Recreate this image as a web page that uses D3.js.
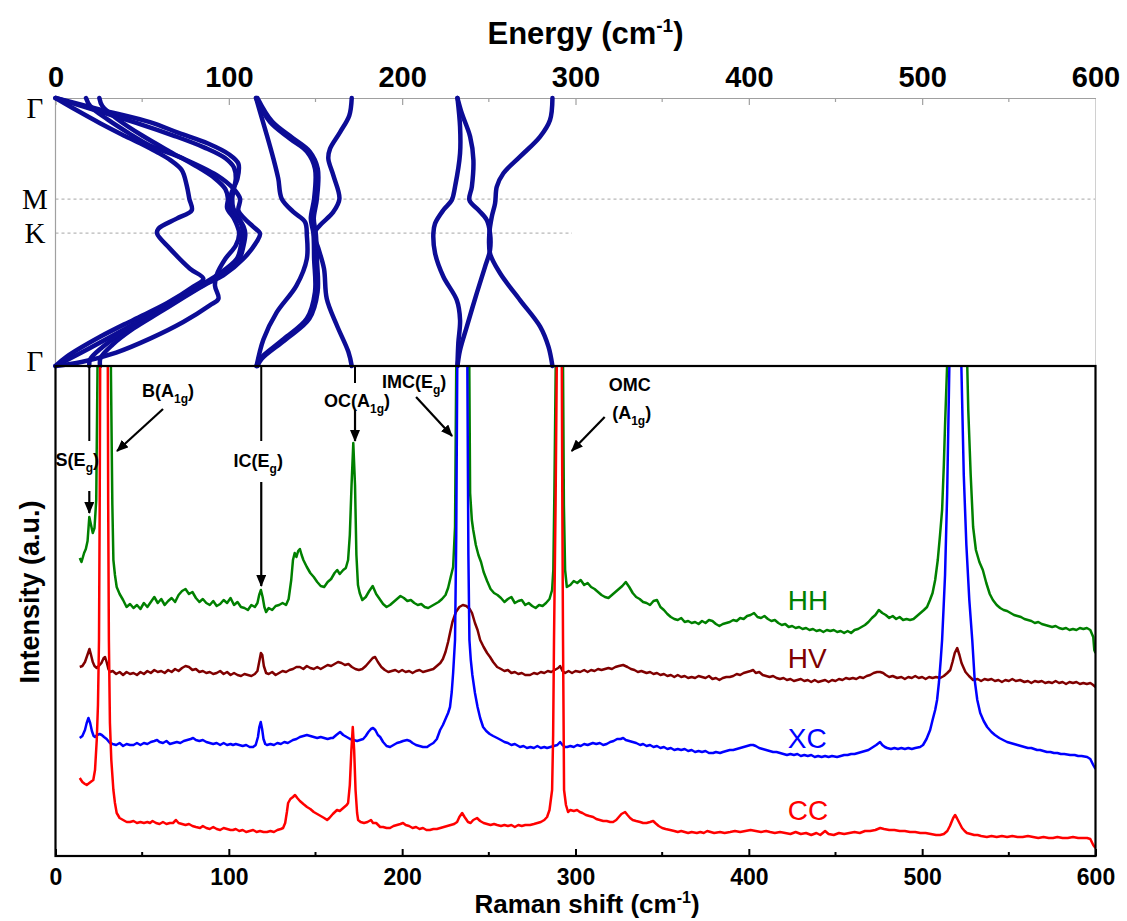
<!DOCTYPE html>
<html>
<head>
<meta charset="utf-8">
<script src="https://cdn.jsdelivr.net/npm/d3@7"></script>
<style>
  body { margin: 0; background: #fff; }
  svg { display: block; }
</style>
</head>
<body>
<svg id="chart" width="1127" height="921"></svg>
<script>
// ---------------- data ----------------
// Raman shift ticks (cm^-1) shared by both panels
const shiftTicks = [0, 100, 200, 300, 400, 500, 600];
const shiftMinorTicks = [50, 150, 250, 350, 450, 550];

// high-symmetry points along the Brillouin-zone path (normalised path length)
const kLabels = ["Γ", "M", "K", "Γ"];
const kPositions = [0, 0.377, 0.504, 1];

// phonon branches: [energy (cm^-1), path coordinate]
const bandA = [[0,0],[12,0.045],[25.7,0.094],[38,0.135],[48.8,0.169],[58,0.2],[66.1,0.231],[72.8,0.269],[75.7,0.326],[77.2,0.376],[78.6,0.419],[69.9,0.45],[59.3,0.488],[58.6,0.506],[66,0.562],[77.6,0.637],[85.3,0.674],[79.5,0.704],[64.2,0.766],[44.9,0.828],[25.7,0.891],[6.5,0.965],[0,1]];
const bandB = [[0,0],[27,0.045],[54.5,0.09],[71,0.13],[88,0.17],[100,0.21],[105.5,0.245],[105,0.3],[101.7,0.351],[100.7,0.376],[100.7,0.413],[104.6,0.444],[107.4,0.475],[108,0.506],[107,0.55],[104.6,0.6],[93,0.662],[83.4,0.7],[64.2,0.774],[54.5,0.81],[35,0.88],[15,0.95],[0,1]];
const bandB2 = [[0,0],[25,0.05],[50,0.1],[68,0.14],[86,0.185],[98,0.225],[103,0.26],[104,0.3],[102.5,0.35],[102,0.376],[102.5,0.41],[105.5,0.445],[108.5,0.48],[109.5,0.506],[108.5,0.55],[106,0.6],[95,0.66],[85.5,0.697],[66,0.77],[56,0.806],[40,0.87],[27,0.93],[20,0.975],[19.5,1]];
const bandC = [[17.6,0],[20,0.03],[30,0.08],[42,0.13],[54.5,0.177],[73.7,0.226],[93,0.288],[102.6,0.338],[106.5,0.376],[105.5,0.42],[109,0.45],[114,0.48],[118,0.506],[116,0.537],[108.4,0.6],[96.8,0.662],[87.2,0.693],[75,0.74],[60,0.8],[45,0.86],[33,0.92],[26,0.97],[25.7,1]];
const bandD = [[25.3,0],[27,0.03],[36,0.08],[50,0.14],[66,0.2],[80,0.25],[92,0.3],[98,0.34],[99.5,0.376],[99,0.41],[103,0.45],[105,0.48],[106,0.506],[104,0.55],[98,0.6],[93,0.66],[92,0.7],[94,0.749],[89,0.774],[73.7,0.836],[54.5,0.898],[35,0.95],[15,0.985],[0,1]];
const bandIC1 = [[115.7,0],[118,0.052],[122,0.14],[125.7,0.226],[128.5,0.3],[130.5,0.376],[137.2,0.425],[144,0.463],[145,0.512],[145,0.6],[139,0.7],[127.6,0.8],[120,0.9],[116,1]];
const bandIC2 = [[115.7,0],[123.8,0.09],[135.3,0.152],[145,0.2],[149.7,0.264],[149.2,0.376],[147.3,0.45],[148.8,0.506],[149.2,0.6],[149.7,0.724],[145,0.823],[131.5,0.9],[118,0.973],[116,1]];
const bandIC3 = [[116.5,0],[125,0.088],[137,0.15],[146.7,0.2],[151.3,0.264],[150.8,0.376],[149,0.45],[150.2,0.506],[150.8,0.6],[151.2,0.724],[146.5,0.823],[133,0.9],[119,0.973],[116.5,1]];
const bandOC = [[170.9,0],[169.5,0.065],[164.2,0.127],[158.4,0.189],[157.4,0.226],[160.3,0.289],[163.8,0.376],[160.3,0.425],[152.6,0.475],[149.2,0.506],[151.7,0.562],[154.9,0.637],[156.5,0.749],[162.3,0.848],[169,0.948],[170.9,1]];
const bandIMC1 = [[231.9,0],[233.4,0.107],[233.4,0.206],[230.5,0.331],[228.6,0.381],[223.8,0.418],[219,0.468],[218,0.505],[219,0.58],[223.8,0.667],[231.5,0.754],[233.4,0.828],[232.4,0.915],[231.9,1]];
const bandIMC2 = [[231.9,0],[234.4,0.057],[239.2,0.144],[241.1,0.231],[240.2,0.331],[238.8,0.381],[244,0.418],[248.8,0.455],[250.7,0.505],[250.7,0.567],[247.8,0.63],[243,0.729],[237.3,0.853],[233.4,0.94],[231.9,1]];
const bandOMC = [[286.7,0],[285.3,0.082],[279.6,0.144],[268,0.219],[258.4,0.281],[254.6,0.331],[253.6,0.393],[251.7,0.443],[250.3,0.505],[250.7,0.58],[256.5,0.654],[268,0.754],[279.6,0.853],[284.4,0.928],[286.7,1]];
const bands = [bandA, bandB, bandB2, bandC, bandD, bandIC1, bandIC2, bandIC3, bandOC, bandIMC1, bandIMC2, bandOMC];

// Raman spectra: [shift (cm^-1), intensity (a.u., offset per polarisation)]
const specHH = [[14,29.7],[15,29.3],[16.5,30.2],[17.5,30.6],[18.5,31.4],[19.5,33.8],[20.5,33.0],[21.5,32.2],[22.5,32.7],[23.5,35.5],[24.2,48],[25,70],[26,95],[28,110],[30,95],[31.2,70],[32,48],[32.8,35],[33.4,29.5],[34.3,28],[35.3,26.8],[37,26.1],[39,25.5],[41,24.8],[43,25.1],[45,24.7],[47,25.0],[49,24.6],[51,25.2],[53,24.8],[55,25.3],[57,25.8],[59,25.2],[61,25.6],[63,25.0],[65,25.4],[67,25.7],[69,25.3],[71,26.0],[73,26.4],[75,26.6],[77,26.1],[79,26.3],[81,25.7],[83,25.3],[85,25.6],[87,25.2],[89,25.0],[91,25.4],[93,24.9],[95,25.1],[97,25.5],[99,25.2],[101,25.7],[103,25.0],[105,25.3],[107,24.8],[109,24.7],[111,24.5],[113,25.0],[115,24.8],[116.5,25.2],[117.5,26.0],[118.5,26.5],[119.5,25.8],[120.5,24.8],[121.5,24.3],[123,24.7],[125,24.5],[127,24.9],[129,25.0],[131,25.2],[133,25.0],[134.5,25.6],[136,27.5],[137,29.5],[138,30.2],[139,29.8],[140,30.4],[141,30.6],[142,30.0],[143,29.5],[145,28.8],[147,28.2],[149,27.8],[151,27.3],[153,26.9],[155,26.8],[157,27.3],[159,27.6],[161,28.2],[162.5,28.5],[164,28.1],[166,28.5],[167.5,28.7],[168.8,29.5],[169.8,32],[170.8,37],[171.8,41.2],[172.8,37],[173.6,30],[174.5,27],[175.5,26.2],[177,25.5],[179,25.8],[181,26.4],[183,26.9],[185,26.1],[187,25.6],[189,25.1],[191,24.8],[193,25.0],[195,25.3],[197,25.6],[199,25.9],[201,25.7],[203,25.4],[205,25.5],[207,25.2],[209,25.0],[211,25.1],[213,24.8],[215,24.7],[217,24.9],[219,25.1],[221,25.3],[223,25.6],[225,26.0],[226.5,26.7],[228,27.8],[229.4,28.8],[230.5,32.8],[231.2,49],[232,80],[234.5,120],[237,90],[238.5,55],[239.2,36.2],[240.2,33.5],[241,32.5],[242.5,31],[244,30],[245.5,29.3],[247,28.3],[249,27.4],[251,26.6],[253,26.2],[255,26.0],[257,25.7],[259,25.3],[261,25.6],[263,25.8],[265,25.2],[267,25.4],[269,25.5],[271,25.0],[273,25.2],[275,24.9],[277,24.7],[279,25.0],[281,24.9],[283,25.2],[285,25.6],[286.5,26.5],[287.2,28.5],[287.8,36],[288.6,49],[289.3,90],[290.5,120],[291.8,90],[292.8,49],[293.3,35],[294,28.5],[295,26.8],[297,27.0],[299,27.4],[301,27.2],[303,27.5],[305,27.0],[307,27.2],[309,26.8],[311,26.6],[313,26.3],[315,26.0],[317,25.8],[319,25.7],[321,26.0],[323,26.3],[325,26.6],[327,26.9],[329,27.3],[331,26.8],[333,26.2],[335,25.8],[337,25.6],[339,25.3],[341,25.2],[343,25.0],[345,25.4],[347,25.5],[349,24.8],[351,24.5],[353,24.1],[355,23.8],[357,23.6],[359,23.5],[361,23.7],[363,23.3],[365,23.4],[367,23.2],[369,23.3],[371,23.1],[373,23.4],[375,23.2],[377,23.5],[379,23.4],[381,23.1],[383,22.9],[385,23.1],[387,23.2],[389,23.3],[391,23.5],[393,23.4],[395,23.7],[397,23.6],[399,23.9],[401,24.0],[403,24.2],[405,23.8],[407,23.7],[409,23.9],[411,23.6],[413,23.4],[415,23.5],[417,23.2],[419,23.0],[421,23.1],[423,22.8],[425,22.9],[427,22.7],[429,22.8],[431,22.6],[433,22.7],[435,22.5],[437,22.6],[439,22.4],[441,22.5],[443,22.3],[445,22.5],[447,22.4],[449,22.5],[451,22.3],[453,22.4],[455,22.2],[457,22.4],[459,22.2],[461,22.5],[463,22.6],[465,22.8],[467,23.0],[469,23.3],[471,23.7],[473,24.0],[475,24.5],[477,24.2],[479,24.0],[481,23.7],[483,23.9],[485,23.6],[487,23.8],[489,23.5],[491,23.6],[493,23.5],[495,23.6],[497,23.9],[499,24.2],[501,24.5],[502.8,24.8],[504.5,25.5],[506,26.2],[507.5,27.5],[509,29.5],[510.3,32],[511.5,34.5],[512.5,39],[513.2,43],[514.4,49],[515.5,65],[517,90],[520,110],[523,90],[525,65],[526,49],[526.6,44.5],[528,38],[529.4,32.8],[531,30.5],[533,29.3],[535,28.5],[537,27.2],[539,26.1],[540.8,25.5],[543,25.0],[545,24.7],[547,24.5],[549,24.4],[551,24.2],[553,24.0],[555,23.9],[557,23.8],[559,23.6],[561,23.5],[563,23.4],[565,23.2],[567,23.3],[569,23.1],[571,23.0],[573,22.9],[575,22.8],[577,22.9],[579,22.7],[581,22.6],[583,22.7],[585,22.5],[587,22.6],[589,22.5],[591,22.7],[593,22.6],[595,22.7],[597,22.5],[598.7,21.8],[599.3,20.5],[600,20.2]];

const specHV = [[14,18.8],[15.5,18.9],[17,19.3],[18,19.8],[19,20.3],[19.6,20.6],[20.5,20.0],[21.5,19.3],[22.5,18.9],[23.8,18.7],[25,18.9],[26.5,19.2],[27.8,19.7],[28.6,19.8],[29.5,19.3],[30.5,18.6],[31.4,18.3],[33,18.4],[35,18.1],[37,18.3],[39,18.0],[41,18.3],[43,18.1],[45,18.2],[47,18.0],[49,18.3],[51,18.1],[53,18.4],[55,18.2],[57,18.5],[59,18.3],[61,18.4],[63,18.2],[65,18.5],[67,18.3],[69,18.6],[71,18.4],[73,18.7],[75,18.9],[77,18.8],[79,18.5],[81,18.6],[83,18.3],[85,18.4],[87,18.2],[89,18.3],[91,18.1],[93,18.2],[95,18.4],[97,18.1],[99,18.3],[101,18.0],[103,18.2],[105,18.0],[107,17.9],[109,18.1],[111,18.0],[113,17.9],[115,18.1],[116.5,18.4],[117.5,19.3],[118.5,20.2],[119.3,20.0],[120.2,18.9],[121.5,18.2],[123,18.1],[125,18.3],[127,18.0],[129,18.2],[131,18.4],[133,18.3],[135,18.5],[137,18.6],[139,18.8],[141,18.8],[143,18.6],[145,18.9],[147,18.7],[149,18.6],[151,18.8],[153,18.6],[155,18.8],[157,19.0],[159,18.9],[161,19.1],[163,19.3],[165,19.2],[167,19.0],[169,19.1],[171,18.8],[173,18.6],[175,18.5],[177,18.6],[179,18.9],[181,19.3],[183,19.7],[184.4,19.8],[186,19.3],[188,18.8],[190,18.5],[192,18.3],[194,18.4],[196,18.5],[198,18.3],[200,18.5],[202,18.3],[204,18.4],[206,18.2],[208,18.4],[210,18.5],[212,18.3],[214,18.4],[216,18.5],[218,18.6],[220,18.9],[222,19.2],[223.5,19.6],[225,20.3],[226.5,21.3],[227.6,22.2],[229,23.3],[231,24.3],[233,24.8],[235,25.0],[237,24.9],[239,24.6],[240.3,24.2],[242,23.2],[243.5,22.5],[245,21.5],[247,20.8],[249,20.2],[250.7,19.8],[252.5,19.3],[254.8,18.8],[257,18.6],[259,18.4],[261,18.5],[263,18.2],[265,18.3],[267,18.1],[269,18.2],[271,18.0],[273.8,18.0],[276,18.2],[278,18.1],[280,18.3],[282,18.2],[284,18.4],[286,18.3],[288,18.5],[290,18.7],[291.1,18.9],[292.5,18.4],[294,18.2],[296,18.4],[298,18.2],[300,18.4],[302.7,18.3],[305,18.5],[307,18.3],[309,18.5],[311,18.4],[313,18.6],[315,18.5],[317,18.6],[319,18.7],[321,18.6],[323,18.8],[325,18.9],[327.5,19.0],[330,18.8],[332,18.6],[334,18.5],[336,18.3],[338,18.4],[341,18.2],[343,18.3],[345,18.1],[347,18.2],[349,18.0],[351,18.1],[353,17.9],[355,18.0],[357,17.8],[359,18.0],[361,17.8],[363,17.9],[365,17.7],[367,17.8],[369,17.7],[371,17.9],[373,17.8],[375,17.7],[377,17.9],[379,17.6],[381,17.7],[383,17.5],[385,17.7],[387,17.8],[389,17.8],[391,17.9],[393,18.1],[395,18.0],[397,18.2],[399,18.3],[401,18.4],[402.5,18.5],[404,18.2],[406,18.3],[408,18.0],[410,17.9],[412,17.8],[414,17.9],[416,17.7],[418,17.6],[420,17.7],[422,17.5],[424,17.6],[426,17.4],[428,17.5],[430,17.6],[432,17.4],[434,17.5],[436,17.3],[438,17.5],[440,17.3],[442,17.4],[444,17.5],[446,17.3],[448,17.5],[450,17.4],[452,17.6],[454,17.5],[456,17.7],[458,17.6],[460,17.7],[462,17.6],[464,17.8],[466,17.7],[468,17.9],[470,18.0],[472,18.2],[474,18.3],[475.8,18.3],[477.5,18.2],[479,18.0],[481,17.8],[483,17.9],[485.6,17.7],[488,17.8],[490,17.6],[492,17.8],[494,17.7],[496,17.9],[498,17.7],[500,17.8],[502,17.6],[504,17.8],[506,17.7],[508,17.8],[510.4,17.7],[512.5,17.9],[514.5,18.2],[516.2,18.5],[517.5,19.3],[518.8,20.2],[520.2,20.7],[521.5,20.0],[522.7,19.2],[523.7,18.8],[525,18.3],[527,17.9],[529.4,17.5],[532,17.6],[534,17.4],[536,17.6],[538,17.5],[540,17.6],[542,17.4],[544,17.5],[546,17.3],[548,17.5],[550,17.4],[552,17.6],[554,17.4],[556.5,17.5],[559,17.3],[561,17.4],[563,17.2],[565,17.4],[567,17.3],[569,17.4],[571,17.2],[573,17.3],[575,17.2],[577,17.4],[579,17.2],[581,17.3],[583,17.1],[585,17.3],[587,17.2],[589,17.3],[591,17.1],[593,17.2],[595,17.1],[597,17.2],[598.7,17.0],[600,16.8]];

const specXC = [[14,11.7],[15.5,11.9],[17,12.5],[18,13.2],[19,13.7],[20,13.2],[21,12.4],[22,11.9],[22.8,11.8],[24,12.0],[25.5,12.1],[26.7,12.0],[28,11.8],[29.5,11.6],[31.4,11.2],[33,11.1],[35,11.0],[37,11.2],[39,10.9],[41,11.1],[43,11.0],[45,11.0],[47,11.2],[49,11.0],[51,11.2],[53,11.1],[55,11.3],[57,11.4],[58.6,11.5],[60,11.3],[62,11.2],[64,11.4],[66,11.1],[68,11.2],[70,11.3],[72,11.2],[74,11.4],[76,11.5],[78,11.6],[79.4,11.7],[81,11.5],[83,11.4],[85,11.5],[87,11.3],[89,11.2],[91,11.1],[93,11.2],[95,11.0],[97,11.2],[99,11.0],[101,11.1],[102.4,11.0],[104,11.1],[106,11.0],[108,10.9],[110,11.0],[112,10.8],[114,10.8],[115.5,11.0],[116.8,11.8],[117.6,12.8],[118.4,13.3],[119.2,12.6],[120,11.6],[121,11.1],[122,11.0],[124,11.1],[126,11.0],[128,11.2],[130,11.1],[132,11.3],[134,11.2],[136,11.4],[137,11.5],[139,11.6],[141,11.8],[143,11.9],[145,12.0],[147,11.9],[149,11.8],[151,11.7],[153,11.8],[155,11.7],[157,11.6],[159,11.7],[160,11.7],[162,12.0],[164.2,12.3],[166,12.0],[168,11.8],[170,11.6],[172,11.5],[174,11.4],[175.7,11.5],[177.5,11.6],[179,11.9],[180.5,12.3],[182,12.6],[183.2,12.7],[184.5,12.5],[186,12.0],[187.3,11.8],[189,11.3],[191,10.9],[193,10.8],[195,11.0],[197,11.2],[199,11.3],[200.5,11.4],[202.8,11.5],[204.5,11.4],[206,11.2],[208,11.0],[210,10.9],[212,10.8],[214.4,10.8],[216,11.0],[218,11.2],[220,11.6],[221.9,12.5],[223.5,13.0],[225,13.6],[226.5,14.2],[227.6,14.8],[228.6,16.3],[229.4,18.2],[230.5,21.5],[231.2,32],[231.8,49],[232.6,85],[234.7,150],[236.8,85],[237.6,49],[238.2,30],[238.8,21.5],[239.6,19.5],[240.5,18],[242,16.2],[243.5,14.8],[245,13.7],[246.7,12.8],[248.5,12.4],[250.5,12.1],[252.5,11.9],[254.8,11.7],[257,11.5],[259,11.3],[261,11.2],[263,11.0],[265,11.1],[268,10.8],[270,10.9],[272,10.7],[274,10.8],[276,10.7],[278,10.9],[280,10.7],[282,10.8],[283.6,10.7],[285.5,10.8],[287.5,10.9],[289.5,11.0],[291.1,11.3],[292.5,11.0],[294,10.8],[295.2,10.8],[297,10.9],[299,10.8],[301,11.0],[303,10.9],[305,11.1],[307,11.0],[310,11.2],[312,11.1],[314,11.2],[316,11.0],[318,11.1],[320,11.3],[322,11.4],[324,11.6],[326,11.6],[327.5,11.7],[329,11.5],[331,11.4],[333,11.3],[335,11.2],[337.3,11.0],[339,11.1],[341,10.9],[343,11.0],[345,10.8],[347,10.9],[349,10.7],[351,10.8],[353,10.6],[355,10.7],[357,10.5],[359,10.6],[361,10.5],[363,10.6],[365,10.4],[367,10.5],[369,10.3],[371,10.4],[373,10.3],[375,10.4],[377,10.2],[379.4,10.2],[381,10.3],[383.4,10.2],[385,10.3],[387,10.4],[389,10.5],[391,10.5],[393,10.6],[395,10.7],[397,10.8],[399,10.9],[401,11.0],[402.5,11.0],[404,10.9],[406,10.7],[408,10.6],[410,10.5],[412,10.4],[414,10.3],[416,10.3],[418,10.2],[420,10.1],[422,10.0],[424,10.1],[426,10.0],[428,10.1],[430,9.9],[432,10.0],[434,9.9],[436,10.0],[438,9.8],[440,9.9],[442,9.8],[444,9.9],[446,9.8],[448,9.9],[450.9,9.8],[453,9.9],[455,10.0],[457,10.0],[459,10.1],[461,10.1],[463,10.2],[465,10.3],[467,10.4],[469,10.5],[471.7,10.8],[473.5,11.0],[475.7,11.3],[477,11.0],[478.5,10.8],[479.8,10.7],[482,10.6],[484,10.7],[486,10.6],[488,10.7],[490,10.6],[492,10.7],[494,10.6],[496,10.7],[498.8,10.8],[500.5,11.0],[502.5,11.6],[504.6,12.5],[506,13.5],[507.5,14.5],[508.6,15.5],[509.7,17.3],[510.7,19.5],[511.5,21.5],[512.3,24.5],[513.2,28],[514.4,36],[515.7,49],[517,80],[519.1,120],[521.2,80],[522.6,49],[524,38],[525.5,31],[527.2,25.5],[528.9,21.5],[530.3,17.5],[531.8,15.5],[533.5,14.2],[535.5,13.4],[537.5,12.8],[540,12.3],[542,12.0],[544.5,11.7],[546.7,11.5],[549,11.3],[551,11.2],[553,11.1],[555,11.0],[557,10.9],[559,10.8],[561,10.7],[563,10.7],[566.3,10.5],[568,10.5],[570,10.4],[572,10.3],[574,10.3],[576,10.2],[578,10.2],[580,10.1],[582,10.1],[585.4,10.0],[588,10.0],[590,9.9],[592,9.9],[595.2,9.8],[597,9.6],[598.7,9.0],[600,8.6]];

const specCC = [[14,7.7],[15.5,7.3],[17,7.1],[18,7.0],[19.5,7.2],[21,7.4],[21.8,7.5],[22.8,8.5],[23.8,11.5],[24.5,15],[25.1,21.5],[25.5,35],[26,60],[28,80],[30,60],[30.4,35],[30.8,21.5],[31.4,13.2],[32.2,9.5],[33.4,6.5],[34.3,5.2],[35.3,4.2],[37,3.7],[39,3.5],[41.1,3.3],[43,3.3],[45,3.4],[47,3.2],[49,3.3],[51,3.2],[53,3.3],[54.5,3.2],[56,3.4],[58,3.2],[60,3.1],[62,3.3],[64,3.1],[66,3.2],[67.8,3.2],[69.5,3.5],[71,3.2],[73,3.1],[75,3.0],[77,3.1],[79,2.9],[81,2.8],[83.4,2.7],[85,2.9],[87,2.7],[89,2.6],[91,2.8],[93,2.6],[95,2.5],[97,2.7],[99,2.6],[101,2.5],[102.4,2.5],[104,2.6],[106,2.4],[108,2.5],[110,2.3],[112,2.4],[114,2.5],[116,2.3],[118,2.4],[120,2.3],[122,2.3],[124,2.4],[126,2.3],[128,2.5],[130,2.6],[131.3,2.7],[132.5,3.2],[133.5,4.3],[134.2,5.2],[135.5,5.6],[137,5.8],[138.2,6.0],[139.5,5.7],[141,5.4],[143,5.1],[145.1,4.8],[147,4.6],[149,4.3],[151,4.1],[153,3.9],[155,3.7],[156.7,3.5],[158,3.7],[160,4.1],[162.4,4.5],[164,4.4],[166,4.7],[168,5.0],[168.8,5.2],[169.8,7.0],[170.7,10.5],[171.5,12.8],[172.3,10.5],[173.1,6.5],[174,4.2],[174.6,3.5],[176,3.3],[178,3.2],[180,3.3],[182,3.5],[183.2,3.2],[185,3.2],[187.3,2.8],[189,2.8],[191,2.7],[193,2.7],[195,2.9],[197,3.0],[199,3.1],[200.5,3.2],[202,3.0],[204,2.9],[206,2.7],[208,2.8],[210,2.6],[212,2.7],[214,2.5],[216,2.5],[218,2.6],[220,2.6],[222,2.7],[224,2.8],[226,2.9],[228,3.0],[230,3.1],[231.7,3.3],[233,3.8],[234.6,4.2],[236,3.8],[238,3.3],[239.5,3.2],[241,3.5],[243.2,3.7],[245,3.4],[247,3.2],[249,3.1],[251,3.0],[253,3.1],[254.8,3.0],[257,2.9],[259,3.0],[261,2.9],[263,3.0],[265,2.8],[267,3.0],[269,2.9],[271,3.0],[273.8,3.0],[276,3.1],[278,3.2],[280,3.3],[282,3.5],[283.6,3.8],[285,4.5],[286.5,6.5],[287.1,12],[287.6,21.5],[288.5,35],[289.2,49],[290.7,90],[292.1,49],[292.4,35],[292.8,21.5],[293.4,6.5],[294.5,5.0],[295.7,4.3],[297,4.5],[299,4.4],[300.9,4.5],[302.5,4.3],[304,4.2],[306,4.0],[308,3.9],[310.2,3.8],[312,3.6],[314,3.5],[316,3.4],[318,3.4],[320,3.3],[321.7,3.3],[323.5,3.5],[325,3.8],[326.5,4.1],[328.6,4.3],[330,4.0],[331.5,3.7],[333,3.5],[335,3.4],[337.3,3.3],[339,3.2],[341,3.2],[343,3.3],[344.8,3.4],[346,3.2],[348,2.9],[350,2.7],[352,2.6],[354.6,2.5],[357,2.4],[359,2.3],[361,2.4],[363,2.3],[365,2.2],[367,2.3],[370,2.2],[372,2.3],[374,2.2],[376,2.4],[378,2.3],[380,2.2],[383.4,2.3],[386,2.2],[389.2,2.3],[392,2.4],[395,2.3],[398,2.4],[401,2.5],[404,2.4],[407,2.3],[410,2.4],[412.3,2.3],[415,2.2],[418,2.3],[421,2.2],[424,2.1],[427,2.3],[430,2.1],[433,2.2],[436,2.0],[439,2.2],[441.2,2.0],[444,2.4],[446,2.1],[449,2.0],[452,2.2],[455,2.1],[458,2.2],[461,2.3],[464,2.2],[467,2.4],[470,2.4],[473,2.5],[475.8,2.7],[478,2.6],[481,2.5],[484,2.5],[487,2.4],[490,2.4],[493,2.3],[496,2.3],[498.9,2.2],[502,2.2],[505,2.1],[508,2.0],[510.4,2.0],[512.5,2.1],[514.5,2.4],[516,2.9],[517.9,3.7],[519,4.0],[520,3.7],[521.5,3.2],[523,2.7],[524.5,2.4],[525.8,2.2],[528,2.1],[530,2.0],[532,2.0],[534,1.9],[537.3,1.8],[540,1.9],[543,1.8],[546,1.9],[549,1.8],[552,1.9],[555,1.8],[558,1.8],[561,1.9],[564,1.8],[567,1.7],[570,1.8],[573,1.7],[575.5,1.7],[578,1.8],[581,1.7],[584,1.7],[587,1.8],[590,1.7],[593,1.7],[595.2,1.7],[597,1.6],[598.7,1.0],[600,0.7]];

const seriesNames = ["HH", "HV", "XC", "CC"];
const seriesData = [specHH, specHV, specXC, specCC];
const seriesColors = ["#008000", "#800000", "#0000ff", "#ff0000"];

// assigned Raman modes: label, symmetry, subscript, shift, intensity at arrow tip
const modeNames = ["S", "B", "IC", "OC", "IMC", "OMC"];
const modeSymmetry = ["E", "A", "E", "A", "E", "A"];
const modeSub = ["g", "1g", "g", "1g", "g", "1g"];
const modeShift = [19.5, 35.5, 118.7, 172.8, 228.8, 297.8];
const modeLevel = [34.2, 40.4, 26.9, 41.4, 41.9, 40.4];

// ---------------- layout ----------------
const svg = d3.select("#chart");
const left = 55.5, right = 1095.5;
const topY0 = 98, topY1 = 366, botY1 = 856;

const x = d3.scaleLinear().domain([0, 600]).range([left, right]);
const yK = d3.scaleLinear().domain([0, 1]).range([topY0, topY1]);
const yI = d3.scaleLinear().domain([0, 49]).range([855, 365]);

const FONT = '"Liberation Sans", Arial, Helvetica, sans-serif';
const SERIF = '"Liberation Serif", "Times New Roman", serif';

const defs = svg.append("defs");
defs.append("clipPath").attr("id", "specClip")
  .append("rect").attr("x", left).attr("y", topY1).attr("width", right - left).attr("height", botY1 - topY1);
defs.append("marker")
  .attr("id", "arrowHead").attr("markerUnits", "userSpaceOnUse")
  .attr("viewBox", "0 0 12 10").attr("markerWidth", 12).attr("markerHeight", 10)
  .attr("refX", 11).attr("refY", 5).attr("orient", "auto")
  .append("path").attr("d", "M0,0 L12,5 L0,10 Z").attr("fill", "#000");

// ---------- upper panel: phonon dispersion ----------
const gTop = svg.append("g");
const grey = "#a0a0a0";

// dashed guides at M and K
gTop.append("line").attr("x1", left).attr("x2", right)
  .attr("y1", yK(kPositions[1])).attr("y2", yK(kPositions[1]))
  .attr("stroke", "#b8b8b8").attr("stroke-width", 1.2).attr("stroke-dasharray", "3,3");
gTop.append("line").attr("x1", left).attr("x2", x(298))
  .attr("y1", yK(kPositions[2])).attr("y2", yK(kPositions[2]))
  .attr("stroke", "#b8b8b8").attr("stroke-width", 1.2).attr("stroke-dasharray", "3,3");

// frame of the upper panel
gTop.append("line").attr("x1", left).attr("x2", left).attr("y1", topY0).attr("y2", topY1).attr("stroke", grey).attr("stroke-width", 1.2);
gTop.append("line").attr("x1", right).attr("x2", right).attr("y1", topY0).attr("y2", topY1).attr("stroke", "#d0d0d0").attr("stroke-width", 1);

// top energy axis
const topAxis = d3.axisTop(x).tickValues(shiftTicks).tickSizeInner(-7).tickSizeOuter(0).tickPadding(11).tickFormat(d3.format("d"));
const gTopAxis = gTop.append("g").attr("transform", `translate(0,${topY0})`).call(topAxis);
gTopAxis.attr("font-family", null).attr("font-size", null);
gTopAxis.select(".domain").attr("stroke", grey).attr("stroke-width", 1.2);
gTopAxis.selectAll(".tick line").attr("stroke", grey).attr("stroke-width", 1.2);
gTopAxis.selectAll(".tick text").attr("font-family", FONT).attr("font-size", 29).attr("font-weight", "bold").attr("fill", "#000");
gTopAxis.selectAll(".tick").filter(d => d === 600).select("line").remove();
gTop.append("g").selectAll("line").data(shiftMinorTicks).join("line")
  .attr("x1", d => x(d)).attr("x2", d => x(d)).attr("y1", topY0).attr("y2", topY0 + 4)
  .attr("stroke", grey).attr("stroke-width", 1.2);

// symmetry-point labels
gTop.append("g").selectAll("text").data(kLabels).join("text")
  .attr("x", 35).attr("y", (d, i) => Math.min(Math.max(yK(kPositions[i]), 108), 361))
  .attr("text-anchor", "middle").attr("dominant-baseline", "central")
  .attr("font-family", SERIF).attr("font-size", 29)
  .text(d => d);

// phonon branches
const bandLine = d3.line().x(d => x(d[0])).y(d => yK(d[1])).curve(d3.curveCatmullRom.alpha(0.5));
gTop.append("g").selectAll("path").data(bands).join("path")
  .attr("d", bandLine).attr("fill", "none")
  .attr("stroke", "#0c0c96").attr("stroke-width", 4.5).attr("stroke-linejoin", "round").attr("stroke-linecap", "round");

// energy title
const eTitle = svg.append("text").attr("x", x(300) + 10).attr("y", 44).attr("text-anchor", "middle")
  .attr("font-family", FONT).attr("font-size", 31).attr("font-weight", "bold");
eTitle.append("tspan").text("Energy (cm");
eTitle.append("tspan").attr("font-size", 19).attr("dy", -12).text("-1");
eTitle.append("tspan").attr("dy", 12).text(")");

// ---------- lower panel: Raman spectra ----------
const gBot = svg.append("g");
const specLine = d3.line().x(d => x(d[0])).y(d => yI(d[1]));
const gSpec = gBot.append("g").attr("clip-path", "url(#specClip)");
gSpec.selectAll("path").data(seriesData).join("path")
  .attr("d", specLine).attr("fill", "none")
  .attr("stroke", (d, i) => seriesColors[i]).attr("stroke-width", 2.5).attr("stroke-linejoin", "round");

// polarisation labels
const seriesLabelLevel = [24.5, 18.7, 10.7, 3.5];
gBot.append("g").selectAll("text").data(seriesNames).join("text")
  .attr("x", x(422.5)).attr("y", (d, i) => yI(seriesLabelLevel[i]))
  .attr("font-family", FONT).attr("font-size", 28)
  .attr("fill", (d, i) => seriesColors[i]).text(d => d);

// bottom axis
const botAxis = d3.axisBottom(x).tickValues(shiftTicks).tickSizeInner(-7).tickSizeOuter(0).tickPadding(13).tickFormat(d3.format("d"));
const gBotAxis = gBot.append("g").attr("transform", `translate(0,${botY1})`).call(botAxis);
gBotAxis.attr("font-family", null).attr("font-size", null);
gBotAxis.select(".domain").remove();
gBotAxis.selectAll(".tick line").attr("stroke", "#000").attr("stroke-width", 2);
gBotAxis.selectAll(".tick text").attr("font-family", FONT).attr("font-size", 23).attr("font-weight", "bold").attr("fill", "#000");
gBot.append("g").selectAll("line").data(shiftMinorTicks).join("line")
  .attr("x1", d => x(d)).attr("x2", d => x(d)).attr("y1", botY1).attr("y2", botY1 - 4)
  .attr("stroke", "#000").attr("stroke-width", 2);

// frame
gBot.append("rect").attr("x", left).attr("y", topY1).attr("width", right - left).attr("height", botY1 - topY1)
  .attr("fill", "none").attr("stroke", "#000").attr("stroke-width", 2.2);

// axis titles
const rTitle = svg.append("text").attr("x", 587).attr("y", 913).attr("text-anchor", "middle")
  .attr("font-family", FONT).attr("font-size", 26).attr("font-weight", "bold");
rTitle.append("tspan").text("Raman shift (cm");
rTitle.append("tspan").attr("font-size", 16).attr("dy", -10).text("-1");
rTitle.append("tspan").attr("dy", 10).text(")");

svg.append("text").attr("transform", "translate(39,592) rotate(-90)").attr("text-anchor", "middle")
  .attr("font-family", FONT).attr("font-size", 27).attr("font-weight", "bold").text("Intensity (a.u.)");

// ---------- mode assignments ----------
// per-mode arrow geometry relative to the arrow tip: tail offset, lead line from the frame, label anchor
const modeLayout = {
  S:   { tail: [0, -22],  lead: -72,  label: [-12, -47] },
  B:   { tail: [46, -42], lead: null, label: [51, -54] },
  IC:  { tail: [0, -104], lead: -145, label: [-3, -119] },
  OC:  { tail: [0, -31],  lead: -58,  label: [2, -34] },
  IMC: { tail: [-36, -39], lead: null, label: [-38, -48] },
  OMC: { tail: [33, -34], lead: null, label: [58, -60], split: true }
};
const gModes = svg.append("g");

function modeText(g, px, py, parts) {
  const t = g.append("text").attr("x", px).attr("y", py).attr("text-anchor", "middle")
    .attr("font-family", FONT).attr("font-size", 18).attr("font-weight", "bold");
  parts.forEach(p => {
    const s = t.append("tspan").text(p.text);
    if (p.sub) s.attr("font-size", 12).attr("dy", 6);
    if (p.back) s.attr("dy", -6);
  });
}

modeNames.forEach((name, i) => {
  const L = modeLayout[name];
  const tx = x(modeShift[i]), ty = yI(modeLevel[i]);
  if (L.lead !== null) {
    gModes.append("line").attr("x1", tx).attr("x2", tx).attr("y1", topY1).attr("y2", ty + L.lead)
      .attr("stroke", "#000").attr("stroke-width", 2);
  }
  gModes.append("line").attr("x1", tx + L.tail[0]).attr("y1", ty + L.tail[1]).attr("x2", tx).attr("y2", ty)
    .attr("stroke", "#000").attr("stroke-width", 2.2).attr("marker-end", "url(#arrowHead)");
  const lx = tx + L.label[0], ly = ty + L.label[1];
  if (L.split) {
    modeText(gModes, lx, ly, [{ text: name }]);
    modeText(gModes, lx + 2, ly + 28, [{ text: "(" + modeSymmetry[i] }, { text: modeSub[i], sub: true }, { text: ")", back: true }]);
  } else {
    modeText(gModes, lx, ly, [{ text: name + "(" + modeSymmetry[i] }, { text: modeSub[i], sub: true }, { text: ")", back: true }]);
  }
});
</script>
</body>
</html>
